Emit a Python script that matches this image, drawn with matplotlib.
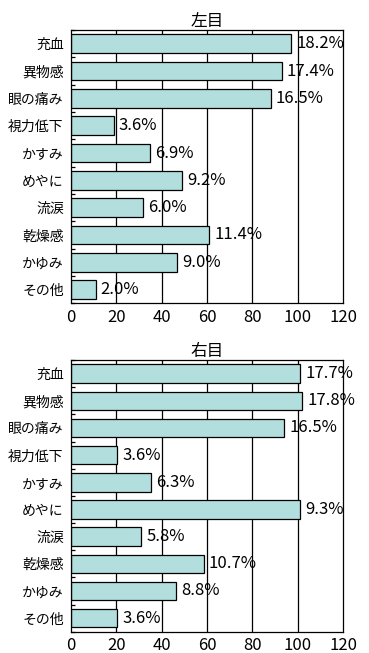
import numpy as np
import matplotlib
matplotlib.use("Agg")
import matplotlib.pyplot as plt

plt.rcParams['font.family'] = ['Noto Sans CJK JP', 'DejaVu Sans']

categories = ["充血", "異物感", "眼の痛み", "視力低下", "かすみ", "めやに", "流涙", "乾燥感", "かゆみ", "その他"]

# left eye (bar length = count, label = percent)
left_counts = [97, 93, 88, 19, 35, 49, 32, 61, 47, 11]
left_pct = ["18.2%", "17.4%", "16.5%", "3.6%", "6.9%", "9.2%", "6.0%", "11.4%", "9.0%", "2.0%"]

# right eye
right_counts = [101, 102, 94, 20.5, 35.5, 101, 31, 58.5, 46.5, 20.5]
right_pct = ["17.7%", "17.8%", "16.5%", "3.6%", "6.3%", "9.3%", "5.8%", "10.7%", "8.8%", "3.6%"]

xticks = [0, 20, 40, 60, 80, 100, 120]

fig = plt.figure(figsize=(3.69, 6.53), dpi=100)
ax1 = fig.add_axes([0.1916, 0.5355, 0.7388, 0.4185])
ax2 = fig.add_axes([0.1916, 0.0326, 0.7388, 0.4160])


def draw(ax, counts, pct, title):
    y = np.arange(len(categories))
    for xv in xticks[1:-1]:
        ax.axvline(xv, color='black', lw=0.9, zorder=1)
    ax.barh(y, counts, height=0.68, color='#b2dedd', edgecolor='black', lw=0.9, zorder=2)
    for yi, c, p in zip(y, counts, pct):
        ax.text(c + 2.2, yi, p, va='center', ha='left', fontsize=12, zorder=3)
    ax.set_xlim(0, 120)
    ax.set_ylim(len(categories) - 0.5, -0.5)
    ax.set_xticks(xticks)
    ax.tick_params(axis='x', length=0, labelsize=12, pad=4)
    ax.set_yticks(y)
    ax.set_yticklabels(categories, fontsize=10)
    ax.tick_params(axis='y', length=0, pad=5)
    ax.set_yticks(np.arange(len(categories) + 1) - 0.5, minor=True)
    ax.tick_params(axis='y', which='minor', direction='in', length=3, width=0.9)
    for s in ax.spines.values():
        s.set_linewidth(0.9)
    ax.set_title(title, fontsize=12, pad=3)


draw(ax1, left_counts, left_pct, "左目")
draw(ax2, right_counts, right_pct, "右目")

fig.savefig("out.png", dpi=100)
